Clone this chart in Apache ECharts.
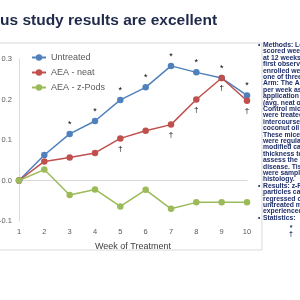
<!DOCTYPE html>
<html>
<head>
<meta charset="utf-8">
<script src="https://cdn.jsdelivr.net/npm/echarts@6/dist/echarts.min.js"></script>
<style>
html,body{margin:0;padding:0;background:#fff;}
#c{width:300px;height:300px;}
</style>
</head>
<body>
<div id="c"></div>
<script>
var weeks = ['1','2','3','4','5','6','7','8','9','10'];
var untreated = [0, 0.063, 0.115, 0.147, 0.199, 0.230, 0.283, 0.267, 0.253, 0.210];
var aeaNeat = [0, 0.047, 0.057, 0.068, 0.104, 0.123, 0.138, 0.200, 0.253, 0.197];
var aeaZPods = [0, 0.027, -0.036, -0.022, -0.064, -0.023, -0.070, -0.054, -0.054, -0.054];
var untreatedMarks = ['', '', '*', '*', '*', '*', '*', '*', '*', '*'];
var neatMarks = ['', '', '', '', '\u2020', '', '\u2020', '\u2020', '\u2020', '\u2020'];
var seriesNames = ['Untreated', 'AEA - neat', 'AEA - z-Pods'];
var titleText = 'us study results are excellent';
var xAxisTitle = 'Week of Treatment';
var noteLines = [
 'Methods: Lesions were','scored weekly starting','at 12 weeks, from the','first observation. Mice',
 'enrolled were assigned','one of three groups.','Arm: The AEA was given','per week as topical',
 'application of 20 \u00b5L','(avg. neat or z-Pods).','Control mice','were treated with an',
 'intercourse simulant of','coconut oil vehicle.','These mice','were regularly scored',
 'modified calipers for','thickness to','assess the extent of','disease. Tissues',
 'were sampled for','histology.','Results: z-Pods','particles caused lesions',
 'regressed compared to','untreated mice which','experienced growth.','Statistics:'
];
var noteBullets = [0, 22, 27];
var noteSymbols = ['*', '\u2020'];

function withMarks(vals, marks){
  return vals.map(function(v,i){
    return {value: v, label: {show: !!marks[i], formatter: marks[i] || ''}};
  });
}

var chart = echarts.init(document.getElementById('c'), null, {renderer:'canvas'});
var FF = 'Liberation Sans, Arial, sans-serif';
var colors = ['#4f81bd', '#c0504d', '#9bbb59'];

var bulletText = noteLines.map(function(_, i){ return noteBullets.indexOf(i) >= 0 ? '\u2022' : ''; }).join('\n');

chart.setOption({
  animation: false,
  color: colors,
  textStyle: {fontFamily: FF},
  grid: {left: 19, right: 53, top: 59, bottom: 79, containLabel: false, outerBoundsMode: 'none'},
  legend: {
    orient: 'vertical', left: 31, top: 53, padding: 0, itemGap: 6, itemWidth: 14, itemHeight: 8,
    textStyle: {fontSize: 9, color: '#595959', fontFamily: FF},
    data: seriesNames
  },
  xAxis: {
    type: 'category', data: weeks, boundaryGap: false,
    axisLine: {lineStyle: {color: '#d9d9d9'}},
    axisTick: {show: false},
    axisLabel: {color: '#595959', fontSize: 7.5, margin: 7},
    name: xAxisTitle, nameLocation: 'middle', nameGap: 21,
    nameTextStyle: {color: '#404040', fontSize: 9}
  },
  yAxis: {
    type: 'value', min: -0.1, max: 0.3, interval: 0.1,
    axisLine: {show: true, lineStyle: {color: '#d9d9d9'}},
    axisTick: {show: false},
    splitLine: {show: false},
    axisLabel: {color: '#595959', fontSize: 7.5, margin: 7, formatter: function(v){ return v.toFixed(1); }}
  },
  series: [
    {name: seriesNames[0], type: 'line', data: withMarks(untreated, untreatedMarks), symbol: 'circle', symbolSize: 6.5,
     lineStyle: {width: 1.5}, label: {position: 'top', distance: 2, fontSize: 9, color: '#000'}},
    {name: seriesNames[1], type: 'line', data: withMarks(aeaNeat, neatMarks), symbol: 'circle', symbolSize: 6.5,
     lineStyle: {width: 1.5}, label: {position: 'bottom', distance: 3, fontSize: 8, color: '#000'}},
    {name: seriesNames[2], type: 'line', data: aeaZPods, symbol: 'circle', symbolSize: 6.5,
     lineStyle: {width: 1.5}}
  ],
  graphic: [
    {type: 'rect', shape: {x: -5, y: 43, width: 267, height: 207}, style: {fill: 'none', stroke: '#d9d9d9', lineWidth: 1}, z: -1},
    {type: 'text', left: 0, top: 13, style: {text: titleText, fontSize: 15.5, fontWeight: 'bold', fill: '#1f2a4a', fontFamily: FF}},
    {type: 'text', x: 258, y: 42, style: {text: bulletText, fontSize: 6.5, lineHeight: 6.4, fill: '#1f2f6a', fontFamily: FF, fontWeight: 'bold'}},
    {type: 'text', x: 263, y: 42, style: {text: noteLines.join('\n'), fontSize: 6.8, lineHeight: 6.4, fill: '#1f2f6a', fontFamily: FF, fontWeight: 'bold'}},
    {type: 'text', x: 291, y: 225, style: {text: noteSymbols.join('\n'), fontSize: 7, lineHeight: 6, fill: '#1f2f6a', fontFamily: FF, fontWeight: 'bold', align: 'center'}}
  ]
});
</script>
</body>
</html>
